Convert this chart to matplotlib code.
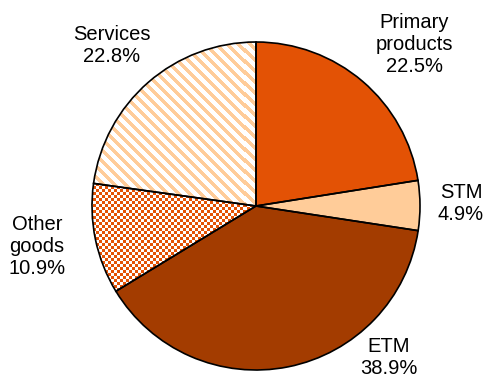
import numpy as np
import matplotlib.pyplot as plt
from matplotlib.colors import ListedColormap

plt.rcParams['font.family'] = ['Liberation Sans', 'DejaVu Sans']

labels = ['Primary\nproducts', 'STM', 'ETM', 'Other\ngoods', 'Services']
shares = [22.5, 4.9, 38.9, 10.9, 22.8]
colors = ['#E35205', '#FFCC99', '#A33C00', 'white', 'white']

# label centres in pixels from the top-left corner
label_xy = [(414, 44), (461, 204), (389, 357), (37, 247), (112, 45)]

W, H = 486, 381
cx, cy, r = 256, H - 206, 164

fig = plt.figure(figsize=(W / 100, H / 100), dpi=100)
ax = fig.add_axes([0, 0, 1, 1])

wedges, _ = ax.pie(shares, colors=colors, startangle=90, counterclock=False,
                   center=(cx, cy), radius=r, wedgeprops=dict(linewidth=0))

yy, xx = np.mgrid[0:H, 0:W]

# services: light diagonal stripes on white
stripes = ((xx + yy) % 11) < 5
im_s = ax.imshow(stripes, cmap=ListedColormap(['white', '#FFCC99']),
                 extent=(0, W, 0, H), origin='lower',
                 interpolation='nearest', zorder=1.5)
im_s.set_clip_path(wedges[4])

# other goods: small orange checkerboard
cell = 3
checker = (xx // cell + yy // cell) % 2
im_c = ax.imshow(checker, cmap=ListedColormap(['white', '#E35205']),
                 extent=(0, W, 0, H), origin='lower',
                 interpolation='nearest', zorder=1.5)
im_c.set_clip_path(wedges[3])

# black outlines on top
ax.pie(shares, colors=['none'] * 5, startangle=90, counterclock=False,
       center=(cx, cy), radius=r,
       wedgeprops=dict(linewidth=1.2, edgecolor='black', zorder=2))

for lab, val, (x, y) in zip(labels, shares, label_xy):
    ax.text(x, H - y, f'{lab}\n{val}%', ha='center', va='center',
            multialignment='center', fontsize=14.5)

ax.set_xlim(0, W)
ax.set_ylim(0, H)
ax.set_aspect('equal')
ax.axis('off')

fig.savefig('out.png', dpi=100)
